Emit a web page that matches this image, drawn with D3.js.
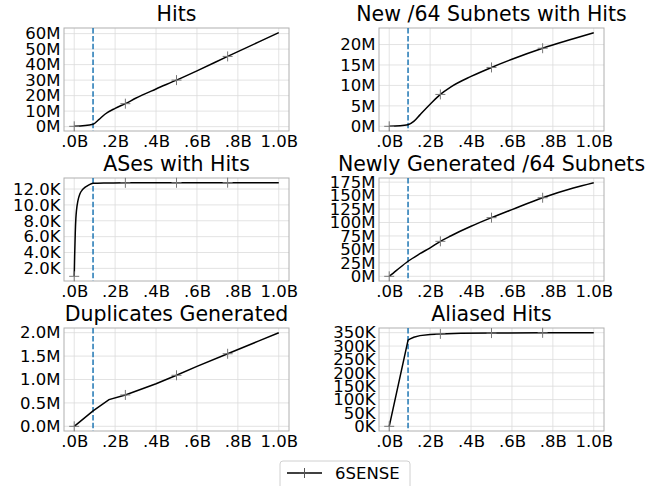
<!DOCTYPE html>
<html>
<head>
<meta charset="utf-8">
<script src="https://cdn.jsdelivr.net/npm/d3@7"></script>
<style>
  body { margin: 0; background: #fff; }
</style>
</head>
<body>
<div id="chart"></div>
<script>
// budget (billions) and cumulative values per panel
var hitsX = [0, 0.092, 0.12, 0.15, 0.2, 0.25, 0.3, 0.4, 0.5, 0.6, 0.75, 0.9, 1.0]
var hitsY = [0.2, 1.6, 4.5, 8, 11.8, 14.8, 18.3, 24.3, 30, 36, 45.3, 54.5, 60.6]

var subnetsHitX = [0, 0.092, 0.12, 0.15, 0.2, 0.25, 0.3, 0.4, 0.5, 0.6, 0.75, 0.9, 1.0]
var subnetsHitY = [0, 0.4, 1.2, 2.8, 5.4, 7.8, 9.6, 12.2, 14.4, 16.4, 19.1, 21.4, 22.9]

var asesX = [0, 0.002, 0.005, 0.008, 0.011, 0.018, 0.028, 0.04, 0.052, 0.07, 0.092, 0.15, 0.25, 0.5, 0.75, 1.0]
var asesY = [1.0, 3.5, 6.4, 8.3, 9.3, 10.5, 11.4, 11.9, 12.2, 12.5, 12.72, 12.76, 12.78, 12.79, 12.8, 12.8]

var genSubnetsX = [0, 0.02, 0.05, 0.092, 0.15, 0.2, 0.25, 0.3, 0.4, 0.5, 0.6, 0.75, 0.9, 1.0]
var genSubnetsY = [0, 6, 15.5, 28, 42, 53, 65, 75, 93, 109, 124, 146, 164, 174]

var dupX = [0, 0.092, 0.17, 0.25, 0.4, 0.5, 0.6, 0.75, 0.9, 1.0]
var dupY = [0, 0.33, 0.57, 0.67, 0.91, 1.09, 1.28, 1.55, 1.82, 2.0]

var aliasX = [0, 0.092, 0.1, 0.12, 0.15, 0.2, 0.25, 0.35, 0.5, 0.75, 1.0]
var aliasY = [0, 322, 326, 333, 339, 343.5, 345.5, 347.5, 348.5, 349.5, 350]

var markerX = [0, 0.25, 0.5, 0.75]
var cutoff = 0.092
var xTicks = [0, 0.2, 0.4, 0.6, 0.8, 1.0]
var xTickLabels = ['.0B', '.2B', '.4B', '.6B', '.8B', '1.0B']

var panels = [
	{title: 'Hits', x: hitsX, y: hitsY, ticks: [0, 10, 20, 30, 40, 50, 60], fmt: function(d) { return d + 'M' }, curve: d3.curveMonotoneX},
	{title: 'New /64 Subnets with Hits', x: subnetsHitX, y: subnetsHitY, ticks: [0, 5, 10, 15, 20], fmt: function(d) { return d + 'M' }, curve: d3.curveMonotoneX},
	{title: 'ASes with Hits', x: asesX, y: asesY, ticks: [2, 4, 6, 8, 10, 12], fmt: function(d) { return d.toFixed(1) + 'K' }, curve: d3.curveMonotoneX},
	{title: 'Newly Generated /64 Subnets', x: genSubnetsX, y: genSubnetsY, ticks: [0, 25, 50, 75, 100, 125, 150, 175], fmt: function(d) { return d + 'M' }, curve: d3.curveMonotoneX},
	{title: 'Duplicates Generated', x: dupX, y: dupY, ticks: [0, 0.5, 1.0, 1.5, 2.0], fmt: function(d) { return d.toFixed(1) + 'M' }, curve: d3.curveLinear},
	{title: 'Aliased Hits', x: aliasX, y: aliasY, ticks: [0, 50, 100, 150, 200, 250, 300, 350], fmt: function(d) { return d + 'K' }, curve: d3.curveLinear}
]

var width = 664, height = 486,
	colLeft = [64, 379], rowTop = [28, 178, 328],
	pw = 225, ph = 103,
	font = 'DejaVu Sans'

var svg = d3.select('#chart').append('svg')
	.attr('width', width)
	.attr('height', height)
	.attr('font-family', font)

panels.forEach(function(p, i) {
	var left = colLeft[i % 2], top = rowTop[Math.floor(i / 2)]
	var g = svg.append('g').attr('transform', 'translate(' + left + ',' + top + ')')

	var x = d3.scaleLinear().domain([-0.05, 1.05]).range([0, pw])
	var ext = d3.extent(p.y), pad = (ext[1] - ext[0]) * 0.05
	var y = d3.scaleLinear().domain([ext[0] - pad, ext[1] + pad]).range([ph, 0])

	// grid
	g.selectAll('.gx').data(xTicks).enter().append('line')
		.attr('x1', function(d) { return x(d) }).attr('x2', function(d) { return x(d) })
		.attr('y1', 0).attr('y2', ph)
		.attr('stroke', '#dcdcdc').attr('stroke-width', 0.8)
	g.selectAll('.gy').data(p.ticks).enter().append('line')
		.attr('x1', 0).attr('x2', pw)
		.attr('y1', function(d) { return y(d) }).attr('y2', function(d) { return y(d) })
		.attr('stroke', '#dcdcdc').attr('stroke-width', 0.8)

	// axes (labels only)
	var xa = g.append('g').attr('transform', 'translate(0,' + ph + ')')
		.call(d3.axisBottom(x).tickValues(xTicks).tickSize(0).tickPadding(4)
			.tickFormat(function(d, j) { return xTickLabels[j] }))
	var ya = g.append('g')
		.call(d3.axisLeft(y).tickValues(p.ticks).tickSize(0).tickPadding(3.5).tickFormat(p.fmt))
	;[xa, ya].forEach(function(a) {
		a.attr('font-family', font)
		a.select('.domain').remove()
		a.selectAll('text').attr('font-size', 16.5).attr('fill', '#000').attr('font-family', font)
	})
	xa.selectAll('text').attr('dy', '0.71em')

	// frame
	g.append('rect').attr('width', pw).attr('height', ph)
		.attr('fill', 'none').attr('stroke', '#b0b0b0').attr('stroke-width', 1)

	// cutoff
	g.append('line')
		.attr('x1', x(cutoff)).attr('x2', x(cutoff)).attr('y1', 0).attr('y2', ph)
		.attr('stroke', '#1f77b4').attr('stroke-width', 1.5).attr('stroke-dasharray', '5.5,2.4')

	var pts = p.x.map(function(v, j) { return [v, p.y[j]] })
	g.append('path')
		.attr('d', d3.line().x(function(d) { return x(d[0]) }).y(function(d) { return y(d[1]) }).curve(p.curve)(pts))
		.attr('fill', 'none').attr('stroke', '#000').attr('stroke-width', 1.5)

	// markers
	var marks = pts.filter(function(d) { return markerX.indexOf(d[0]) >= 0 })
	marks.forEach(function(d) {
		var cx = x(d[0]), cy = y(d[1])
		g.append('path')
			.attr('d', 'M' + (cx - 5) + ',' + cy + 'H' + (cx + 5) + 'M' + cx + ',' + (cy - 5) + 'V' + (cy + 5))
			.attr('stroke', '#777').attr('stroke-width', 1)
	})

	svg.append('text')
		.attr('x', left + pw / 2).attr('y', top - 7.5)
		.attr('text-anchor', 'middle').attr('font-size', 20.5)
		.attr('font-family', font)
		.text(p.title)
})

// legend
var lg = svg.append('g').attr('transform', 'translate(280,461)')
lg.append('rect').attr('width', 130).attr('height', 32).attr('rx', 3)
	.attr('fill', '#fff').attr('stroke', '#d0d0d0')
lg.append('line').attr('x1', 7).attr('x2', 42).attr('y1', 12).attr('y2', 12)
	.attr('stroke', '#000').attr('stroke-width', 1.5)
lg.append('path').attr('d', 'M19.5,12H29.5M24.5,7V17').attr('stroke', '#555').attr('stroke-width', 1)
lg.append('text').attr('x', 55).attr('y', 18).attr('font-size', 16.5)
	.attr('font-family', font).text('6SENSE')
</script>
</body>
</html>
